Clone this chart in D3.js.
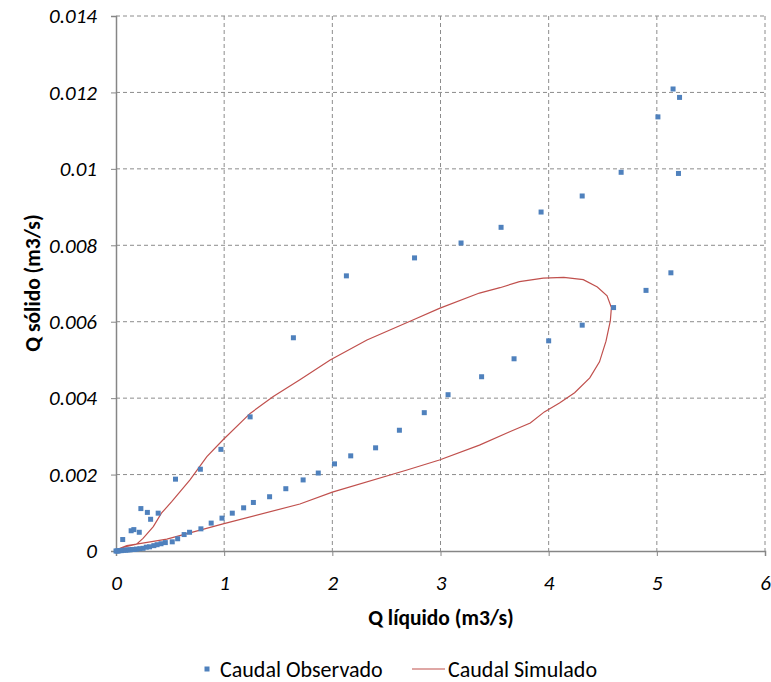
<!DOCTYPE html>
<html>
<head>
<meta charset="utf-8">
<script src="https://cdn.jsdelivr.net/npm/d3@7"></script>
<style>
  body { margin: 0; background: #fff; }
  text { font-family: Carlito, "Liberation Sans", Arial, sans-serif; fill: #000; }
  .tick text { font-style: italic; font-size: 21px; }
  .axisTitle { font-weight: bold; font-size: 21.5px; }
  .legendText { font-size: 22px; }
</style>
</head>
<body>
<div id="chart"></div>
<script>
// Observed: Q liquido (x) and Q solido (y)
var obsX = [5.15, 5.21, 5.01, 4.67, 5.20, 4.31, 3.93, 3.56, 3.19, 2.76, 2.13, 1.64, 1.24, 0.97, 0.78, 0.55,
    0.23, 0.29, 0.32, 0.39, 0.14, 0.165, 0.215, 0.062,
    5.13, 4.90, 4.60, 4.31, 4.00, 3.68, 3.38, 3.07, 2.85, 2.62, 2.40, 2.17, 2.02, 1.87, 1.73, 1.57, 1.42,
    1.27, 1.18, 1.075, 0.98, 0.88, 0.785, 0.68, 0.63, 0.57, 0.52, 0.456, 0.416, 0.38, 0.35, 0.31, 0.28, 0.25,
    0.22, 0.19, 0.17, 0.15, 0.13, 0.11, 0.09, 0.07, 0.05, 0.035, 0.02, 0.01, 0.0];
var obsY = [0.01209, 0.01187, 0.01136, 0.00991, 0.00988, 0.00929, 0.00887, 0.00847, 0.00806, 0.00767, 0.0072, 0.00558, 0.00351, 0.00266, 0.00214, 0.00188,
    0.00111, 0.00101, 0.00083, 0.00099, 0.00053, 0.00056, 0.00049, 0.0003,
    0.00728, 0.00682, 0.00637, 0.00591, 0.0055, 0.00503, 0.00456, 0.00409, 0.00362, 0.00316, 0.0027, 0.00249, 0.00228, 0.00204, 0.00186, 0.00163, 0.00142,
    0.00127, 0.00113, 0.00099, 0.00086, 0.00073, 0.00058, 0.00049, 0.00043, 0.00032, 0.00024, 0.00022, 0.00019, 0.000165, 0.00014, 0.00011, 0.0001, 0.00007,
    0.00006, 0.00005, 0.00004, 0.00004, 0.00003, 0.00003, 0.00002, 0.00002, 0.00001, 0.00001, 0.0, 0.0, 0.0];

// Simulated loop
var simX = [0, 0.037, 0.1, 0.19, 0.25, 0.345, 0.42, 0.515, 0.684, 0.84, 0.99, 1.24, 1.454, 1.70, 1.98, 2.32, 2.75, 2.99,
    3.36, 3.55, 3.73, 3.95, 4.14, 4.32, 4.45, 4.54, 4.58, 4.57, 4.53, 4.47, 4.38, 4.24, 4.10, 3.96, 3.83, 3.64, 3.36,
    2.99, 2.69, 2.0, 1.70, 0.99, 0.47, 0.19, 0.1, 0.037, 0];
var simY = [0, 0.00007, 0.00012, 0.00018, 0.00033, 0.00064, 0.00099, 0.00129, 0.00186, 0.00247, 0.00291, 0.0036, 0.00404, 0.00448, 0.005, 0.00552, 0.00605, 0.00635,
    0.00675, 0.00689, 0.00705, 0.00714, 0.00716, 0.0071, 0.00691, 0.00668, 0.00637, 0.00602, 0.00549, 0.00495, 0.00453, 0.00414, 0.00387, 0.00364, 0.00335, 0.00312, 0.00277,
    0.00238, 0.00212, 0.00154, 0.00123, 0.00071, 0.00031, 0.00018, 0.00014, 0.00007, 0];

var xTicks = [0, 1, 2, 3, 4, 5, 6];
var yTicks = [0, 0.002, 0.004, 0.006, 0.008, 0.01, 0.012, 0.014];
var seriesNames = ["Caudal Observado", "Caudal Simulado"];

var svgWidth = 771;
var svgHeight = 682;
var margin = { top: 16, right: 6, bottom: 131, left: 116 };

var svg = d3.select("#chart").append("svg")
    .attr("width", svgWidth)
    .attr("height", svgHeight);

var chartGroup = svg.append("g")
    .attr("transform", `translate(${margin.left}, ${margin.top})`);

var xScale = d3.scaleLinear().domain([0, 6]).range([0, 649]);
var yScale = d3.scaleLinear().domain([0, 0.014]).range([535, 0]);

// gridlines
chartGroup.append("g").selectAll("line")
    .data(yTicks.slice(1))
    .enter().append("line")
    .attr("x1", 0).attr("x2", xScale(6))
    .attr("y1", d => yScale(d)).attr("y2", d => yScale(d))
    .attr("stroke", "#8c8c8c").attr("stroke-width", 1).attr("stroke-dasharray", "4,3");

chartGroup.append("g").selectAll("line")
    .data(xTicks.slice(1))
    .enter().append("line")
    .attr("x1", d => xScale(d)).attr("x2", d => xScale(d))
    .attr("y1", 0).attr("y2", yScale(0))
    .attr("stroke", "#8c8c8c").attr("stroke-width", 1).attr("stroke-dasharray", "4,3");

// axes
var bottomAxis = d3.axisBottom(xScale).tickValues(xTicks).tickFormat(d3.format("d")).tickSize(5).tickPadding(19);
var leftAxis = d3.axisLeft(yScale).tickValues(yTicks).tickFormat(d => d === 0 ? "0" : String(+d.toFixed(3))).tickSize(5).tickPadding(14);

var gx = chartGroup.append("g")
    .attr("transform", `translate(0, ${yScale(0)})`)
    .call(bottomAxis);
var gy = chartGroup.append("g").call(leftAxis);

[gx, gy].forEach(function(g) {
    g.select(".domain").attr("stroke", "#868686").attr("stroke-width", 1.5);
    g.selectAll(".tick line").attr("stroke", "#868686");
    g.selectAll(".tick text").attr("fill", "#000");
});

// simulated line
var line = d3.line()
    .x((d, i) => xScale(simX[i]))
    .y((d, i) => yScale(simY[i]));

chartGroup.append("path")
    .datum(simX)
    .attr("d", line)
    .attr("fill", "none")
    .attr("stroke", "#c0504d")
    .attr("stroke-width", 1.2);

// observed markers
chartGroup.append("g").selectAll("rect")
    .data(obsX)
    .enter().append("rect")
    .attr("x", (d, i) => xScale(obsX[i]) - 2.5)
    .attr("y", (d, i) => yScale(obsY[i]) - 2.5)
    .attr("width", 5)
    .attr("height", 5)
    .attr("fill", "#4f81bd");

// axis titles
svg.append("text")
    .attr("class", "axisTitle")
    .attr("x", 441)
    .attr("y", 625)
    .attr("text-anchor", "middle")
    .text("Q líquido (m3/s)");

svg.append("text")
    .attr("class", "axisTitle")
    .attr("transform", "translate(40, 283) rotate(-90)")
    .attr("text-anchor", "middle")
    .text("Q sólido (m3/s)");

// legend
var legend = svg.append("g");
legend.append("rect")
    .attr("x", 204.5).attr("y", 666.5)
    .attr("width", 5).attr("height", 5)
    .attr("fill", "#4f81bd");
legend.append("text")
    .attr("class", "legendText")
    .attr("x", 220).attr("y", 677)
    .text(seriesNames[0]);
legend.append("line")
    .attr("x1", 412).attr("x2", 445)
    .attr("y1", 669).attr("y2", 669)
    .attr("stroke", "#c0504d").attr("stroke-width", 1.2);
legend.append("text")
    .attr("class", "legendText")
    .attr("x", 448).attr("y", 677)
    .text(seriesNames[1]);
</script>
</body>
</html>
